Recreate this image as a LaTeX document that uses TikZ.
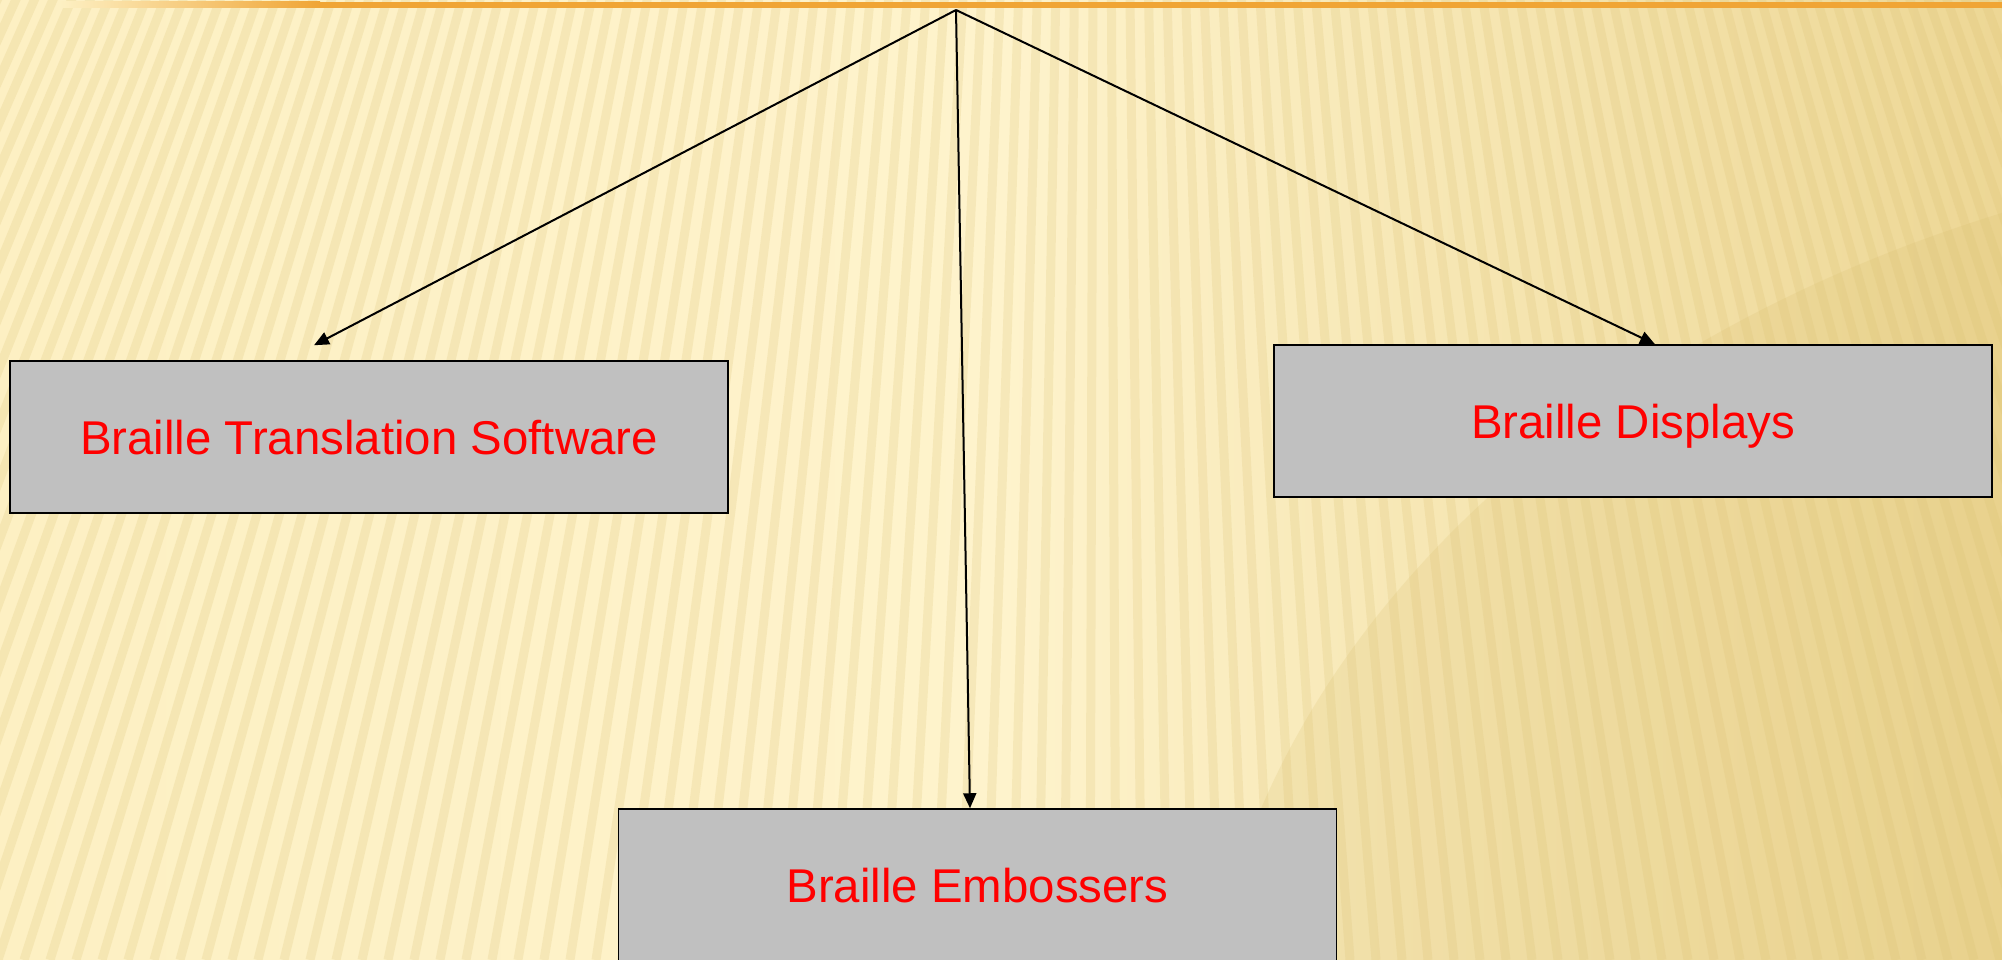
\documentclass[tikz,border=0pt]{standalone}
\usepackage{fontspec}
\setmainfont{Liberation Sans}
\usetikzlibrary{arrows.meta,calc}
\definecolor{bgleft}{HTML}{FDF0C3}
\definecolor{bgmid}{HTML}{FEF3CC}
\definecolor{bgright}{HTML}{EDD795}
\definecolor{stripe}{HTML}{D9BE6E}
\definecolor{orangeline}{HTML}{F0A535}
\definecolor{boxgray}{HTML}{C0C0C0}
\tikzset{
  itembox/.style={draw=black, line width=1.5pt, fill=boxgray, minimum width=718pt, minimum height=152pt, inner sep=0pt, text height=34pt, text depth=0pt, text=red, font=\fontsize{47.4}{56}\selectfont},
  arr/.style={draw=black, line width=2pt, -{Triangle[length=15pt,width=13pt]}},
}
\begin{document}
\begin{tikzpicture}[x=1pt,y=-1pt]
\useasboundingbox (0,0) rectangle (2002,960);
\clip (0,0) rectangle (2002,960);
% background
\shade[left color=bgleft, right color=bgright, middle color=bgmid] (0,0) rectangle (2002,960);
\fill[stripe, opacity=0.2] (2500,1100) ellipse [x radius=1300, y radius=960];
\foreach \i in {0,...,130} {
  \draw[stripe, opacity=0.2, line width=9pt] (1100,-2400) -- ({-600+\i*26},960);
}
% top orange line
\shade[left color=bgleft, right color=orangeline] (60,2) rectangle (320,8);
\fill[orangeline] (320,2) rectangle (2002,8);
% nodes
\coordinate (top) at (956,10);
\node[itembox] (soft) at (369,437) {Braille Translation Software};
\node[itembox] (disp) at (1633,421) {Braille Displays};
\node[itembox] (emb) at (977.5,885) {Braille Embossers};
% connectors
\draw[arr] (top) -- ($(soft.north)+(-55,-15)$);
\draw[arr] (top) -- ($(disp.north)+(22,0)$);
\draw[arr] (top) -- ($(emb.north)+(-7.5,0)$);
\end{tikzpicture}
\end{document}
